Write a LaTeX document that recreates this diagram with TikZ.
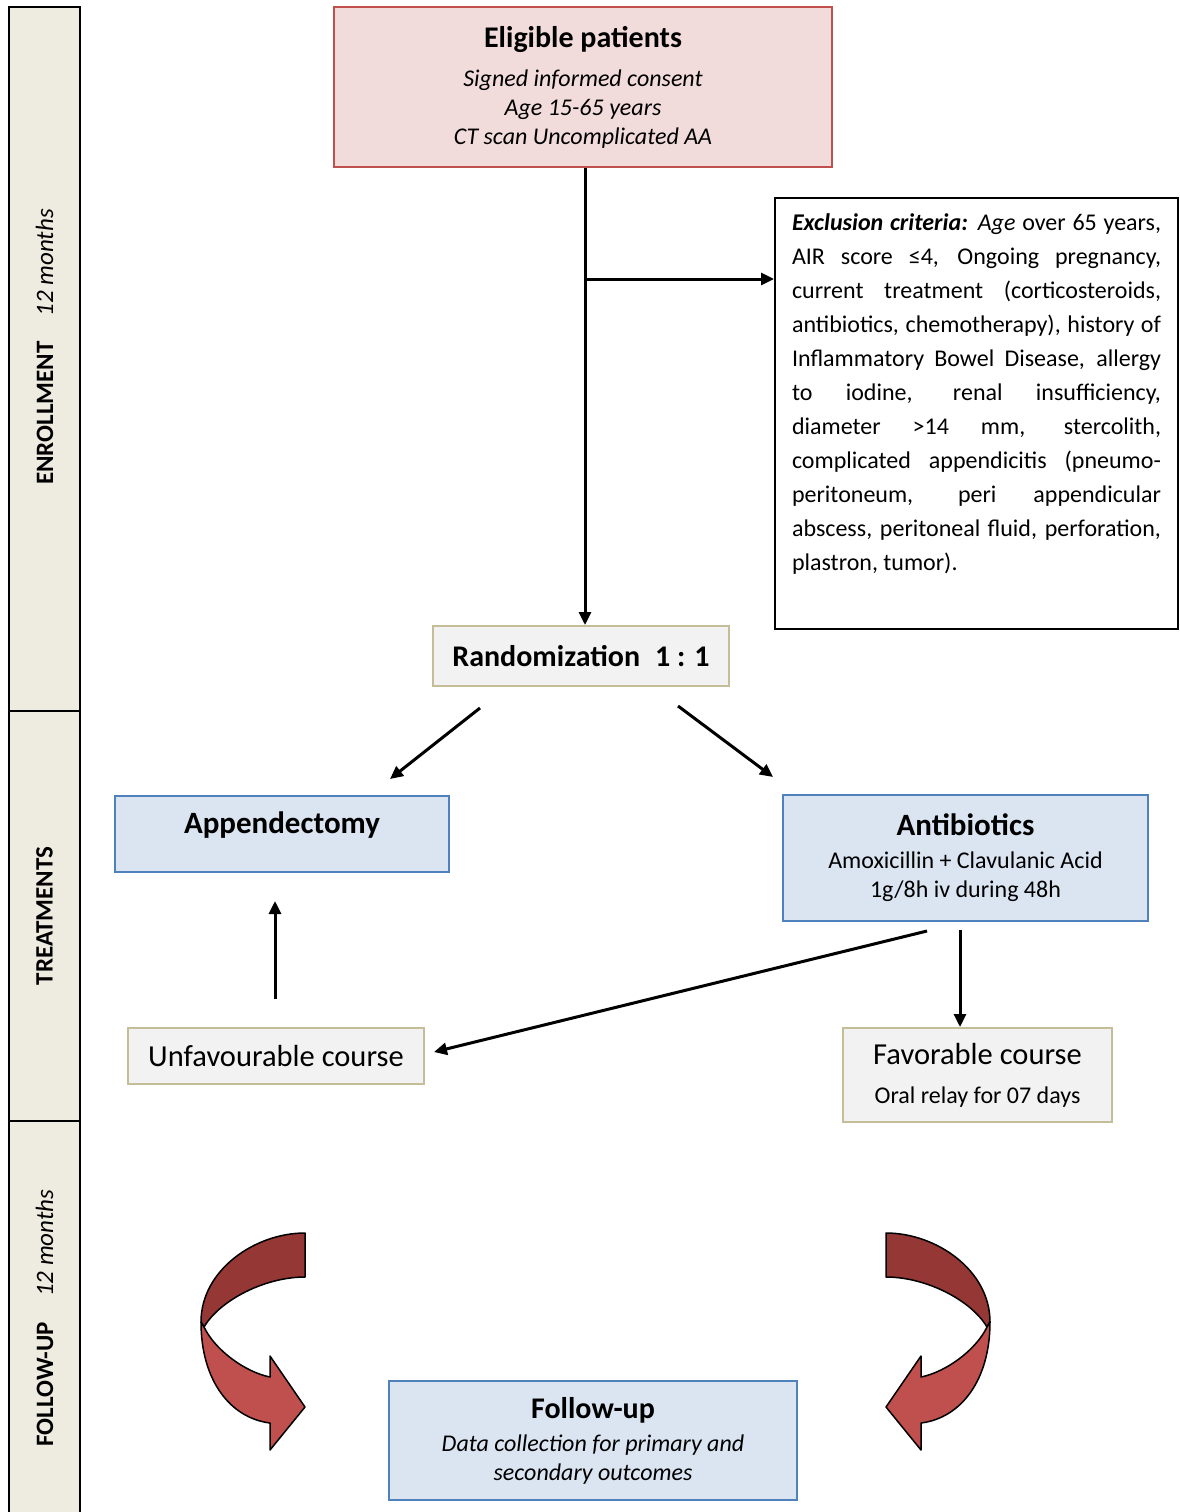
\documentclass[tikz,border=0pt]{standalone}
\usepackage{fontspec}
\setmainfont{Carlito}
\usetikzlibrary{arrows.meta,calc,positioning}
\definecolor{eligiblefill}{RGB}{242,220,219}
\definecolor{eligibledraw}{RGB}{192,80,77}
\definecolor{treatfill}{RGB}{219,229,241}
\definecolor{treatdraw}{RGB}{79,129,189}
\definecolor{coursefill}{RGB}{242,242,242}
\definecolor{coursedraw}{RGB}{196,189,151}
\definecolor{phasefill}{RGB}{238,236,225}
\definecolor{bendtop}{RGB}{149,55,53}
\definecolor{bendlow}{RGB}{192,80,77}

\begin{document}
\begin{tikzpicture}[
    x=1pt, y=-1pt,
    box/.style={rectangle, draw, line width=2pt, align=center, inner sep=0pt},
    eligiblebox/.style={box, fill=eligiblefill, draw=eligibledraw},
    treatbox/.style={box, fill=treatfill, draw=treatdraw},
    coursebox/.style={box, fill=coursefill, draw=coursedraw},
    phasebox/.style={rectangle, draw, line width=2pt, fill=phasefill, rotate=90, minimum height=71pt, font=\fontsize{25}{30}\selectfont},
    arrow/.style={->, >={Triangle[length=13pt, width=12pt]}, line width=3pt},
    bendarrow/.style={draw, line width=1.5pt, line join=round}
]
\useasboundingbox (0,0) rectangle (1179,1512);

% Phases
\node[phasebox, minimum width=704pt] (enrollment) at (44.5,359) {\hspace*{24pt}\textbf{ENROLLMENT}\quad\textit{12 months}};
\node[phasebox, minimum width=410pt] (treatments) at (44.5,916) {\textbf{TREATMENTS}};
\node[phasebox, minimum width=394pt] (followphase) at (44.5,1318) {\textbf{FOLLOW-UP}\quad\textit{12 months}};

% Enrollment
\node[eligiblebox, minimum width=498pt, minimum height=160pt, font=\fontsize{24}{29}\selectfont\itshape] (eligible) at (583,87)
    {{\fontsize{30}{29}\selectfont\bfseries\upshape Eligible patients}\\[10pt]
     Signed informed consent\\ Age 15-65 years\\ CT scan Uncomplicated AA};
\node[box, draw=black, fill=white, text width=369pt, inner xsep=17pt, minimum height=431pt, align=justify, font=\fontsize{24}{34}\selectfont] (exclusion) at (976.5,413.5)
    {\textbf{\textit{Exclusion criteria:}} \textit{Age} over 65 years,\linebreak
     AIR score ≤4, Ongoing pregnancy,\linebreak
     current treatment (corticosteroids,\linebreak
     antibiotics, chemotherapy), history of\linebreak
     Inflammatory Bowel Disease, allergy\linebreak
     to iodine, renal insufficiency,\linebreak
     diameter >14 mm, stercolith,\linebreak
     complicated appendicitis (pneumo-\linebreak
     peritoneum, peri appendicular\linebreak
     abscess, peritoneal fluid, perforation,\linebreak
     plastron, tumor).\par\vspace{9pt}\null};
\node[coursebox, minimum width=296pt, minimum height=60pt, font=\fontsize{30}{34}\selectfont\bfseries] (rand) at (581,656) {Randomization\enspace 1 : 1};

% Treatments
\node[treatbox, minimum width=334pt, minimum height=76pt, text depth=23pt, font=\fontsize{31}{34}\selectfont\bfseries] (appendectomy) at (282,834) {Appendectomy};
\node[treatbox, minimum width=365pt, minimum height=126pt, font=\fontsize{24}{29}\selectfont] (antibiotics) at (965.5,858)
    {{\fontsize{31}{29}\selectfont\bfseries Antibiotics}\\[4pt]
     Amoxicillin + Clavulanic Acid\\ 1g/8h iv during 48h};
\node[coursebox, minimum width=296pt, minimum height=56pt, font=\fontsize{30.5}{34}\selectfont] (unfavourable) at (276,1056) {Unfavourable course};
\node[coursebox, minimum width=269pt, minimum height=94pt, font=\fontsize{24}{29}\selectfont] (favorable) at (977.5,1075)
    {{\fontsize{30.5}{29}\selectfont Favorable course}\\[10pt] Oral relay for 07 days};

% Follow-up
\node[treatbox, minimum width=408pt, minimum height=119pt, font=\fontsize{24}{29}\selectfont\itshape] (followup) at (593,1440.5)
    {{\fontsize{30}{29}\selectfont\bfseries\upshape Follow-up}\\[4pt]
     Data collection for primary and\\ secondary outcomes};

% Arrows
\coordinate (split) at ([xshift=2pt,yshift=-111pt]eligible.south);
\draw[arrow] ([xshift=2pt]eligible.south) -- ([xshift=2pt]eligible.south |- rand.north);
\draw[arrow] (split) -- (split -| exclusion.west);
\draw[arrow] ([xshift=-101pt,yshift=-21pt]rand.south) -- ([xshift=108pt,yshift=16pt]appendectomy.north);
\draw[arrow] ([xshift=97pt,yshift=-19pt]rand.south) -- ([xshift=-9pt,yshift=17pt]antibiotics.north west);
\coordinate (abdown) at ([xshift=-5.5pt,yshift=-8pt]antibiotics.south);
\draw[arrow] (abdown) -- (abdown |- favorable.north);
\draw[arrow] ([xshift=-38.5pt,yshift=-9pt]antibiotics.south) -- ([xshift=9pt,yshift=4pt]unfavourable.east);
\coordinate (unup) at ([xshift=-1pt,yshift=28pt]unfavourable.north);
\draw[arrow] (unup) -- ([yshift=-28pt]unup |- appendectomy.south);

% Curved arrows into follow-up
\foreach \flip/\shift in {1/0, -1/1191} {
  \begin{scope}[xshift=\shift pt, xscale=\flip]
    \path[bendarrow, fill=bendtop] (305,1233) .. controls (255,1233) and (201,1270) .. (201,1322)
        -- (204,1327) .. controls (220,1300) and (265,1277) .. (305,1277) -- cycle;
    \path[bendarrow, fill=bendlow] (201,1322) .. controls (201,1380) and (230,1418) .. (270,1423)
        -- (270,1450) -- (305,1407) -- (270,1356) -- (270,1377)
        .. controls (245,1372) and (215,1350) .. (204,1327) -- cycle;
  \end{scope}
}

\end{tikzpicture}
\end{document}
